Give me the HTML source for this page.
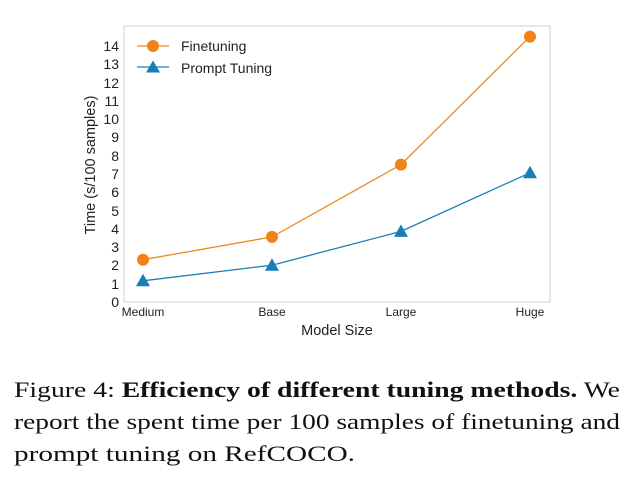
<!DOCTYPE html>
<html><head><meta charset="utf-8"><style>body{margin:0;background:#fff}svg{display:block}</style></head><body>
<svg width="634" height="478" xmlns="http://www.w3.org/2000/svg" font-family="Liberation Sans, sans-serif">
<rect width="634" height="478" fill="#fff"/>
<rect x="124" y="26" width="426" height="276" fill="#fff" stroke="#d8d8d8" stroke-width="1.2"/>
<g font-size="14" fill="#222" text-anchor="end">
<text x="119" y="307">0</text><text x="119" y="289">1</text><text x="119" y="270">2</text><text x="119" y="252">3</text><text x="119" y="234">4</text><text x="119" y="216">5</text><text x="119" y="197">6</text><text x="119" y="179">7</text><text x="119" y="161">8</text><text x="119" y="142">9</text><text x="119" y="124">10</text><text x="119" y="106">11</text><text x="119" y="88">12</text><text x="119" y="69">13</text><text x="119" y="51">14</text>
</g>
<g font-size="12" fill="#222" text-anchor="middle">
<text x="143" y="316">Medium</text><text x="272" y="316">Base</text><text x="401" y="316">Large</text><text x="530" y="316">Huge</text>
</g>
<text x="337" y="335" font-size="14.5" fill="#222" text-anchor="middle">Model Size</text>
<text transform="translate(95,165) rotate(-90)" font-size="14.5" fill="#222" text-anchor="middle">Time (s/100 samples)</text>
<polyline points="143,259.7 272,236.9 401,164.6 530,36.6" fill="none" stroke="#ee8a1e" stroke-width="1.3"/>
<polyline points="143,280.8 272,265.2 401,231.4 530,172.8" fill="none" stroke="#1f7fb4" stroke-width="1.3"/>
<g fill="#f28217">
<circle cx="143" cy="259.7" r="6"/><circle cx="272" cy="236.9" r="6"/><circle cx="401" cy="164.6" r="6"/><circle cx="530" cy="36.6" r="6"/>
</g>
<g fill="#1a7db5">
<polygon points="143,273.8 136,286.3 150,286.3"/><polygon points="272,258.2 265,270.7 279,270.7"/><polygon points="401,224.4 394,236.9 408,236.9"/><polygon points="530,165.8 523,178.3 537,178.3"/>
</g>
<line x1="137" y1="46" x2="169" y2="46" stroke="#ee8a1e" stroke-width="1.3"/>
<circle cx="153" cy="46" r="6" fill="#f28217"/>
<line x1="137" y1="67" x2="169" y2="67" stroke="#1f7fb4" stroke-width="1.3"/>
<polygon points="153,60.5 146,72.5 160,72.5" fill="#1a7db5"/>
<text x="181" y="51" font-size="14" fill="#222">Finetuning</text>
<text x="181" y="73" font-size="14" fill="#222">Prompt Tuning</text>
<g font-family="Liberation Serif, serif" font-size="22" fill="#111">
<text x="14" y="397" textLength="606" lengthAdjust="spacingAndGlyphs">Figure 4: <tspan font-weight="bold">Efficiency of different tuning methods.</tspan> We</text>
<text x="14" y="429" textLength="606" lengthAdjust="spacingAndGlyphs">report the spent time per 100 samples of finetuning and</text>
<text x="14" y="461" textLength="341" lengthAdjust="spacingAndGlyphs">prompt tuning on RefCOCO.</text>
</g>
</svg>
</body></html>
